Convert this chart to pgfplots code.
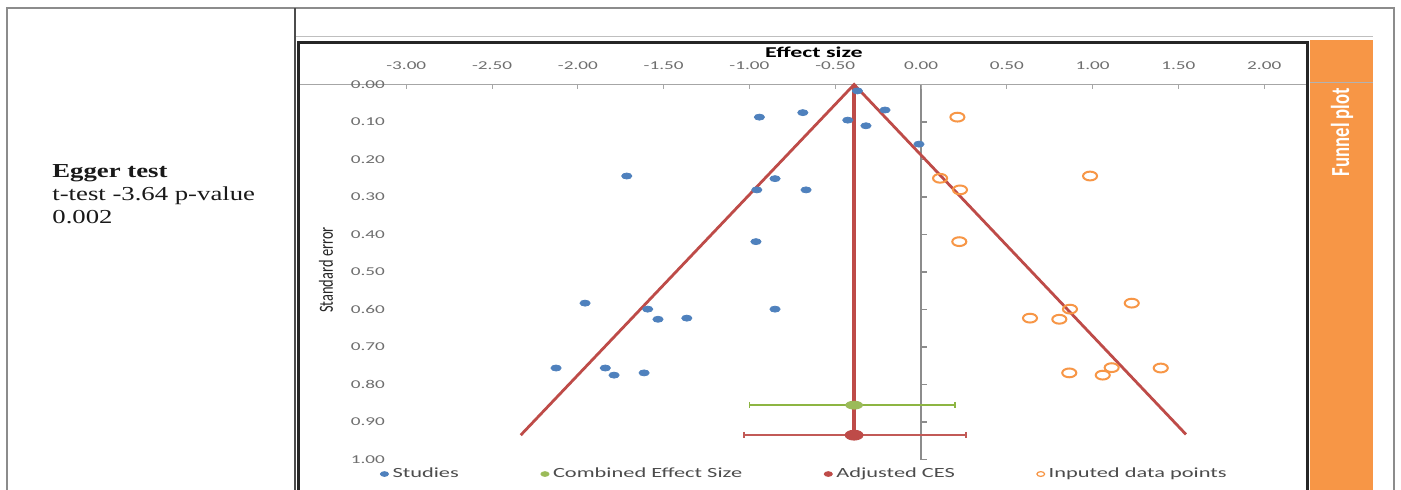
\documentclass[border=0pt]{standalone}
\usepackage{fontspec}
\setmainfont{Liberation Serif}[FakeStretch=1.35]
\newfontfamily\cf{Carlito}[FakeStretch=1.6]
\newfontfamily\cfr{Carlito}[FakeStretch=0.72]
\usepackage{pgfplots}
\pgfplotsset{compat=1.18}
\pgfplotsset{/pgf/number format/assume math mode=true}
\definecolor{sblue}{HTML}{4F81BD}
\definecolor{sgreen}{HTML}{9BBB59}
\definecolor{cigreen}{HTML}{8DB543}
\definecolor{sred}{HTML}{BE4B48}
\definecolor{cired}{HTML}{C25A57}
\definecolor{sorange}{HTML}{F79646}
\definecolor{band}{HTML}{F79646}
\definecolor{tickgray}{HTML}{6E6E6E}

\pgfplotstableread{
x y
-0.371 0.017
-0.942 0.087
-0.689 0.075
-0.427 0.095
-0.321 0.110
-0.210 0.068
-0.012 0.159
-1.715 0.244
-0.851 0.251
-0.957 0.281
-0.670 0.281
-0.962 0.419
-1.958 0.583
-1.593 0.599
-1.533 0.626
-1.365 0.623
-0.851 0.599
-2.127 0.756
-1.840 0.756
-1.789 0.775
-1.614 0.769
}\studies

\pgfplotstableread{
x y
0.212 0.087
0.111 0.250
0.227 0.281
0.985 0.244
0.223 0.419
0.635 0.623
0.806 0.626
0.868 0.599
1.228 0.583
0.864 0.769
1.059 0.775
1.111 0.755
1.397 0.756
}\imputed

\begin{document}
\begin{tikzpicture}
\useasboundingbox (0,0) rectangle (700.5pt,-244.5pt);
\fill[white] (0,0) rectangle (700.5pt,-244.5pt);
\begin{scope}[x=0.5pt,y=-0.5pt]
  \draw[black!45, line width=0.6pt] (7,500) -- (7,8) -- (1394,8) -- (1394,500);
  \draw[black!70, line width=0.6pt] (295,8) -- (295,500);
  \draw[black!25, line width=0.5pt] (296,36) -- (1373,36);
  \fill[band] (1310,40) rectangle (1373,500);
  \draw[black!30, line width=0.5pt] (1310,82) -- (1373,82);
  \node[anchor=base west, inner sep=0pt, text=black!90, font=\bfseries\fontsize{9.9}{11}\selectfont] at (52,177) {Egger test};
  \node[anchor=base west, inner sep=0pt, text=black!90, font=\fontsize{9.9}{11}\selectfont] at (52,200) {t-test -3.64 p-value};
  \node[anchor=base west, inner sep=0pt, text=black!90, font=\fontsize{9.9}{11}\selectfont] at (52,223) {0.002};
\end{scope}

% vertical axis at x = 0
\begin{axis}[
  at={(149pt,-42.25pt)}, anchor=north west,
  scale only axis, width=504pt, height=187.5pt,
  xmin=-3.631, xmax=2.2436, ymin=0, ymax=1, y dir=reverse,
  axis x line=none, axis y line=middle,
  y axis line style={draw=black!45, line width=1pt, -},
  ytick={0,0.1,0.2,0.3,0.4,0.5,0.6,0.7,0.8,0.9,1.0},
  yticklabels={},
  tick align=inside,
  ytick style={draw=black!45, line width=0.6pt},
  major tick length=3pt,
]
\end{axis}

\begin{axis}[
  at={(149pt,-42.25pt)}, anchor=north west,
  scale only axis, width=504pt, height=187.5pt,
  xmin=-3.631, xmax=2.2436, ymin=0, ymax=1, y dir=reverse,
  axis x line*=top, axis y line*=left,
  x axis line style={draw=black!35, line width=0.5pt, -},
  y axis line style={draw=none},
  xtick={-3,-2.5,-2,-1.5,-1,-0.5,0,0.5,1,1.5,2},
  ytick={0,0.1,0.2,0.3,0.4,0.5,0.6,0.7,0.8,0.9,1.0},
  tick align=inside,
  major tick length=2pt,
  xtick style={draw=black!35, line width=0.5pt},
  ytick style={draw=none},
  xticklabel={\pgfmathprintnumber[fixed,fixed zerofill,precision=2]{\tick}},
  yticklabel={\pgfmathprintnumber[fixed,fixed zerofill,precision=2]{\tick}},
  xticklabel style={font=\cf\fontsize{6}{7}\selectfont, text=tickgray, yshift=4pt},
  yticklabel style={font=\cf\fontsize{6}{7}\selectfont, text=tickgray, xshift=47pt},
  clip=false,
  legend columns=4,
  legend style={draw=none, fill=none, inner sep=0pt,
    at={(axis description cs:0.0813,-0.0387)}, anchor=west,
    font=\cf\fontsize{7}{8}\selectfont, text=black!70,
    /tikz/every even column/.append style={column sep=39pt}},
]
% funnel
\addplot[sred, line width=1.4pt, forget plot] coordinates {(-2.333,0.935) (-0.39,0) (1.544,0.933)};
\addplot[sred, line width=2pt, forget plot] coordinates {(-0.39,0) (-0.39,0.935)};
% confidence intervals
\addplot[draw=cigreen, line width=0.9pt, mark=|, mark size=1.6pt, mark options={solid, draw=cigreen, line width=0.9pt}, forget plot]
  coordinates {(-1.0,0.855) (0.198,0.855)};
\addplot[draw=cired, line width=0.9pt, mark=|, mark size=1.6pt, mark options={solid, draw=cired, line width=0.9pt}, forget plot]
  coordinates {(-1.031,0.935) (0.26,0.935)};

\addplot[sblue, only marks, mark=*, mark size=1.5pt, mark options={xscale=1.7, draw=sblue, fill=sblue},
  legend image post style={mark size=1.2pt}] table {\studies};
\addlegendentry{Studies}

\addplot[sgreen, only marks, mark=*, mark size=2pt, mark options={xscale=2.1, draw=sgreen, fill=sgreen},
  legend image post style={mark size=1.2pt, mark options={xscale=1.7, draw=sgreen, fill=sgreen}}]
  coordinates {(-0.39,0.855)};
\addlegendentry{Combined Effect Size}

\addplot[sred, only marks, mark=*, mark size=2.5pt, mark options={xscale=1.8, draw=sred, fill=sred},
  legend image post style={mark size=1.2pt, mark options={xscale=1.7, draw=sred, fill=sred}}]
  coordinates {(-0.39,0.935)};
\addlegendentry{Adjusted CES}

\addplot[sorange, only marks, mark=o, mark size=2.2pt, mark options={xscale=1.6, draw=sorange, line width=1pt},
  legend image post style={mark size=1.2pt, mark options={xscale=1.6, draw=sorange, line width=0.6pt}}]
  table {\imputed};
\addlegendentry{Inputed data points}
\end{axis}

\begin{scope}[x=0.5pt,y=-0.5pt]
  \draw[line width=1.5pt, black!85] (298.5,500) -- (298.5,42) -- (1307,42) -- (1307,500);
  \node[font=\cf\bfseries\fontsize{7.5}{9}\selectfont] at (814,52) {Effect size};
  \node[rotate=90, font=\cfr\fontsize{10}{12}\selectfont, text=black!85] at (326,270) {Standard error};
  \node[rotate=90, text=white, font=\cfr\bfseries\fontsize{13}{15}\selectfont] at (1342,132) {Funnel plot};
\end{scope}
\end{tikzpicture}
\end{document}
